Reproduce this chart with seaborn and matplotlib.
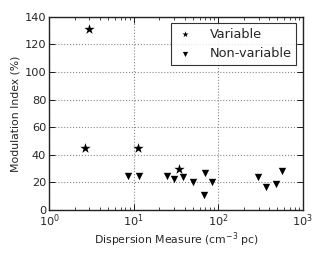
import matplotlib
matplotlib.use("Agg")
import matplotlib.pyplot as plt
import numpy as np
import pandas as pd
import seaborn as sns

# values
var_dm = [2.95, 2.65, 11.4, 34.3]
var_mod = [131, 45, 45, 30]
nonvar_dm = [8.6, 11.5, 24.7, 30.2, 37.9, 50.1, 70.2, 67.6, 84, 297, 362, 479, 564]
nonvar_mod = [25, 25, 24.5, 22.4, 24.3, 20.2, 27.1, 11.2, 20.5, 24.3, 16.4, 18.6, 28.6]
labels = ["Variable", "Non-variable"]

df = pd.DataFrame({
    "dm": var_dm + nonvar_dm,
    "mod": var_mod + nonvar_mod,
    "kind": [labels[0]] * len(var_dm) + [labels[1]] * len(nonvar_dm),
})

sns.set_style("white")
plt.rcParams["font.family"] = ["DejaVu Sans"]
plt.rcParams["xtick.direction"] = "in"
plt.rcParams["ytick.direction"] = "in"

fig = plt.figure(figsize=(3.25, 2.6), dpi=100)
ax = fig.add_axes([0.151, 0.192, 0.781, 0.743])

sns.scatterplot(data=df[df.kind == labels[0]], x="dm", y="mod", marker="*",
                color="k", s=60, linewidth=0, ax=ax, legend=False)
sns.scatterplot(data=df[df.kind == labels[1]], x="dm", y="mod", marker="v",
                color="k", s=28, linewidth=0, ax=ax, legend=False)

ax.set_xscale("log")
ax.set_xlim(1, 1000)
ax.set_ylim(0, 140)
ax.set_yticks(np.arange(0, 141, 20))
ax.grid(True, color="#888888", linestyle=":", linewidth=0.8)
for s in ax.spines.values():
    s.set_color("#222222")
    s.set_linewidth(1.0)
ax.tick_params(which="both", top=True, right=True, bottom=True, left=True, labelsize=8.2, color="k", pad=2)
ax.tick_params(which="major", length=4, width=0.6)
ax.tick_params(which="minor", length=2, width=0.5)
ax.set_xlabel("Dispersion Measure (cm$^{-3}$ pc)", fontsize=7.8, labelpad=1)
ax.set_ylabel("Modulation Index (%)", fontsize=7.8, labelpad=3)

h1 = ax.scatter([], [], marker="*", color="k", s=22, linewidth=0)
h2 = ax.scatter([], [], marker="v", color="k", s=14, linewidth=0)
leg = ax.legend([h1, h2], labels, loc="upper right", fontsize=9.3, frameon=True, fancybox=False,
                scatterpoints=1, borderpad=0.35, handletextpad=1.2, borderaxespad=0.5, handlelength=1.5)
leg.get_frame().set_edgecolor("k")
leg.get_frame().set_linewidth(0.8)

fig.savefig("out.png", dpi=100)
